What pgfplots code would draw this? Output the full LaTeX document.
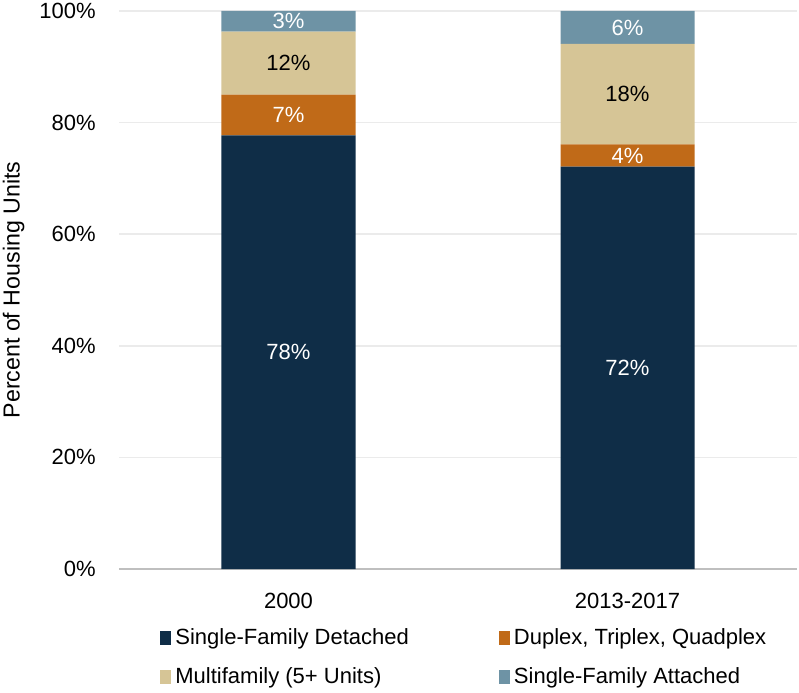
\documentclass[border=0pt]{standalone}
\usepackage{fontspec}
\setmainfont{Liberation Sans}
\usepackage{pgfplots}
\pgfplotsset{compat=1.18}
\usepackage{pgfplotstable}
\definecolor{sfd}{HTML}{0F2D47}
\definecolor{dup}{HTML}{C06A18}
\definecolor{mf}{HTML}{D6C596}
\definecolor{sfa}{HTML}{6E93A5}
\definecolor{gridc}{HTML}{EBEBEB}
\definecolor{axl}{HTML}{BFBFBF}
\pgfplotstableread{
x sfd dup mf sfa
0 77.7 7.3 11.3 3.7
1 72.1 4.0 18.0 5.9
}\shares
\pgfplotstableread{
x y lab
0 38.85 78\%
0 81.35 7\%
0 98.15 3\%
1 36.05 72\%
1 74.1 4\%
1 97.05 6\%
}\whitelabels
\pgfplotstableread{
x y lab
0 90.65 12\%
1 85.1 18\%
}\blacklabels
\pgfplotsset{
  sq/.style={legend image code/.code={\fill[##1] (0pt,-3.5pt) rectangle (5.5pt,3.5pt);}},
  common/.style={at={(59.5pt,61.5pt)}, anchor=south west, scale only axis,
    width=339pt, height=279pt, xmin=-0.5, xmax=1.5, ymin=0, ymax=100},
}
\begin{document}
\begin{tikzpicture}[font=\fontsize{11}{13}\selectfont]
\useasboundingbox (0,0) rectangle (399.5pt,346pt);
\begin{axis}[common,
  ybar stacked, bar width=67pt,
  xtick={0,1}, xticklabels={2000,2013-2017},
  ytick={0,20,...,100}, yticklabel={\pgfmathprintnumber{\tick}\%},
  /pgf/number format/assume math mode=true,
  ymajorgrids, grid style={draw=gridc, line width=0.8pt},
  axis x line=bottom, axis y line=left,
  y axis line style={draw=none},
  x axis line style={draw=axl, line width=0.8pt, -},
  major tick length=0pt,
  yticklabel style={anchor=east, inner sep=0pt, xshift=-11.5pt},
  xticklabel style={anchor=center, inner sep=0pt, yshift=-16pt},
  every axis y label/.style={at={(axis description cs:-0.1555,0.5)}, rotate=90, anchor=center,
    font=\fontsize{11.6}{13}\selectfont},
  ylabel={Percent of Housing Units},
  legend columns=2,
  legend cell align=left,
  legend style={draw=none, fill=none, at={(axis description cs:0.0605,0)}, anchor=north west,
    xshift=-3pt, yshift=-25.5pt, font=\fontsize{11}{13}\selectfont,
    /tikz/every even column/.append style={column sep=43pt},
    row sep=6pt},
]
\addplot[fill=sfd, draw=none, sq] table[x=x, y=sfd] {\shares};
\addlegendentry{Single-Family Detached}
\addplot[fill=dup, draw=none, sq] table[x=x, y=dup] {\shares};
\addlegendentry{Duplex, Triplex, Quadplex}
\addplot[fill=mf, draw=none, sq] table[x=x, y=mf] {\shares};
\addlegendentry{Multifamily (5+ Units)}
\addplot[fill=sfa, draw=none, sq] table[x=x, y=sfa] {\shares};
\addlegendentry{Single-Family Attached}
\end{axis}
\begin{axis}[common, axis lines=none, xtick=\empty, ytick=\empty, clip=false]
\addplot[draw=none, mark=none, nodes near coords, point meta=explicit symbolic,
  every node near coord/.style={anchor=center, text=white, inner sep=0pt}]
  table[x=x, y=y, meta=lab] {\whitelabels};
\addplot[draw=none, mark=none, nodes near coords, point meta=explicit symbolic,
  every node near coord/.style={anchor=center, text=black, inner sep=0pt}]
  table[x=x, y=y, meta=lab] {\blacklabels};
\end{axis}
\end{tikzpicture}
\end{document}
